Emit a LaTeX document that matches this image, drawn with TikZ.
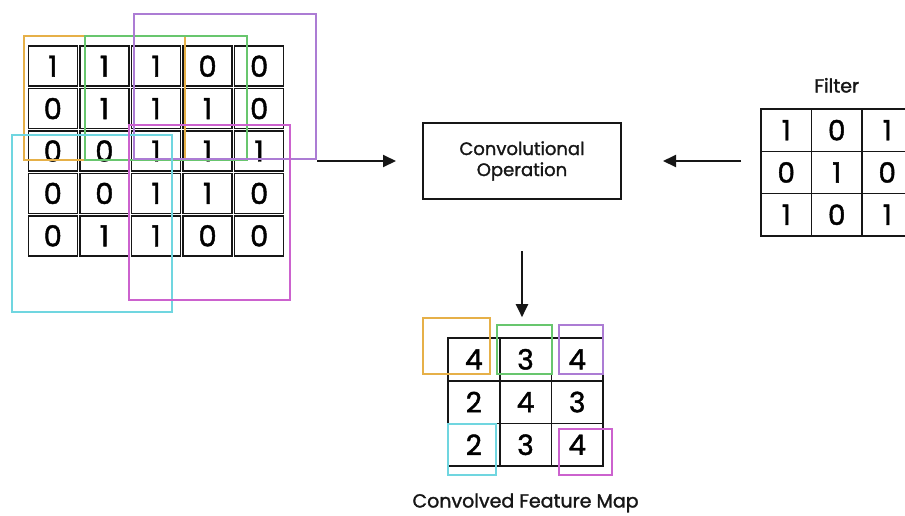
\documentclass[tikz,border=0pt]{standalone}
\usepackage{fontspec}
\setmainfont{Poppins}[FakeBold=1.5]
\usetikzlibrary{arrows.meta}
\usetikzlibrary{positioning}

\definecolor{winorange}{RGB}{230,176,72}
\definecolor{wingreen}{RGB}{104,198,110}
\definecolor{winpurple}{RGB}{172,124,212}
\definecolor{wincyan}{RGB}{112,214,224}
\definecolor{winmagenta}{RGB}{204,98,206}
\definecolor{ink}{RGB}{22,22,22}

\begin{document}
\begin{tikzpicture}[x=1pt,y=-1pt,
    incell/.style={draw=ink,line width=1.5pt,minimum width=49pt,minimum height=40pt,inner sep=0pt,font=\fontsize{29}{29}\selectfont},
    outcell/.style={draw=ink,line width=1.6pt,minimum width=51.7pt,minimum height=42.7pt,inner sep=0pt,font=\fontsize{28}{28}\selectfont},
    fltcell/.style={draw=ink,line width=1.6pt,minimum width=50.5pt,minimum height=42.3pt,inner sep=0pt,font=\fontsize{28}{28}\selectfont},
    window/.style={line width=1.4pt},
    flow/.style={->,>={Triangle[width=12pt,length=13pt]},line width=2pt,draw=ink},
    caption/.style={font=\fontsize{19}{19}\selectfont,text=ink}]

    \useasboundingbox (0,0) rectangle (905,515);
    \clip (0,0) rectangle (905,515);

    % input image
    \foreach \row/\vals in {1/{1,1,1,0,0},2/{0,1,1,1,0},3/{0,0,1,1,1},4/{0,0,1,1,0},5/{0,1,1,0,0}}
        \foreach \v [count=\col] in \vals
            \node[incell] (in-\row-\col) at ({27+51.6*(\col-0.5)},{45+42.4*(\row-0.5)}) {\v};

    % sliding windows
    \draw[window,winorange] (24,36) rectangle (185,160);
    \draw[window,wingreen] (85,36) rectangle (247,160);
    \draw[window,winpurple] (134,14) rectangle (316,159);
    \draw[window,wincyan] (12,135) rectangle (172,312);
    \draw[window,winmagenta] (129,125) rectangle (290,300);

    \node[draw=ink,line width=2pt,minimum width=198pt,minimum height=76pt,align=center,
        font=\fontsize{18}{21}\selectfont,text=ink] (conv) at (522,161) {Convolutional\\Operation};

    % filter
    \foreach \row/\vals in {1/{1,0,1},2/{0,1,0},3/{1,0,1}}
        \foreach \v [count=\col] in \vals
            \node[fltcell] (flt-\row-\col) at ({761+50.5*(\col-0.5)},{109+42.3*(\row-0.5)}) {\v};
    \node[caption] (fltname) [above=12pt of flt-1-2] {Filter};

    % feature map
    \foreach \row/\vals in {1/{4,3,4},2/{2,4,3},3/{2,3,4}}
        \foreach \v [count=\col] in \vals
            \node[outcell] (out-\row-\col) at ({448+51.7*(\col-0.5)},{338+42.7*(\row-0.5)}) {\v};
    \node[caption] (outname) [below=23pt of out-3-2] {Convolved Feature Map};

    \draw[window,winorange] (423,318) rectangle (490,374);
    \draw[window,wingreen] (497,325) rectangle (552,374);
    \draw[window,winpurple] (559,325) rectangle (603,374);
    \draw[window,wincyan] (448,424) rectangle (496,475);
    \draw[window,winmagenta] (559,429) rectangle (612,475);

    \coordinate (inexit) at (317,161);
    \draw[flow,shorten >=26pt] (inexit) -- (conv);
    \draw[flow,shorten <=19pt,shorten >=41pt] (conv.east -| flt-2-1.west) -- (conv.east);
    \draw[flow,shorten <=51pt,shorten >=20pt] (conv.south) -- (conv.south |- out-1-2.north);
\end{tikzpicture}
\end{document}
